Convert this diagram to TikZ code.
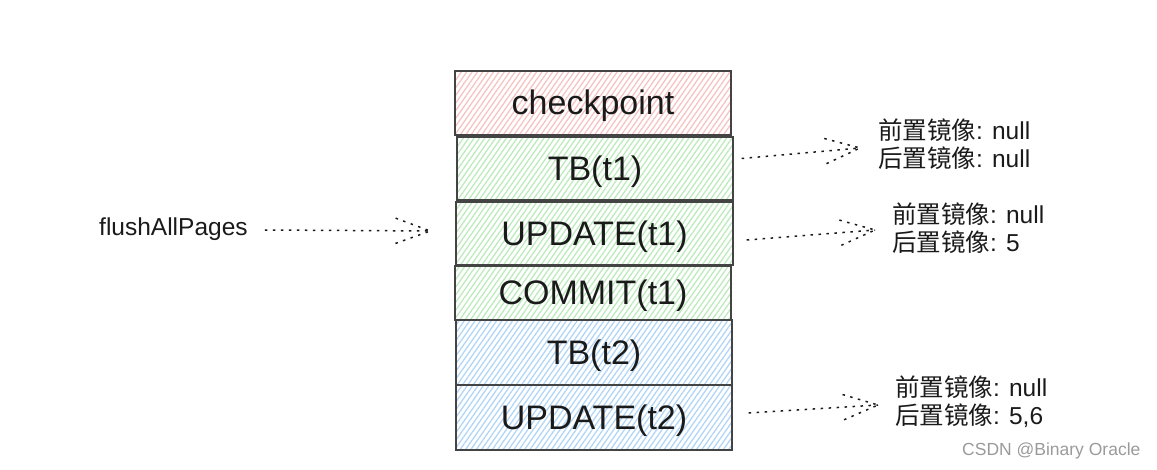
\documentclass[tikz,border=0pt]{standalone}
\usepackage{fontspec}
\setmainfont{Liberation Sans}
\newfontfamily\cjk{Noto Sans CJK SC}
\usetikzlibrary{calc,patterns.meta}
\definecolor{edge}{HTML}{444444}
\definecolor{txt}{HTML}{1A1A1A}
\definecolor{hred}{HTML}{F7C3C3}
\definecolor{hgreen}{HTML}{BDEBBD}
\definecolor{hblue}{HTML}{B3D6F7}
\definecolor{wm}{HTML}{9A9A9A}
\tikzset{
  logbox/.style={draw=edge, line width=1.4pt, preaction={fill=white}, minimum width=276pt, inner sep=0pt,
    text height=30.8pt, text depth=7.2pt, font=\fontsize{34}{40}\selectfont, text=txt},
  redbox/.style={logbox, preaction={pattern={Lines[angle=55,distance=4.4pt,line width=1.3pt]}, pattern color=hred}},
  greenbox/.style={logbox, preaction={pattern={Lines[angle=55,distance=4.4pt,line width=1.3pt]}, pattern color=hgreen}},
  bluebox/.style={logbox, preaction={pattern={Lines[angle=55,distance=4.4pt,line width=1.3pt]}, pattern color=hblue}},
  sidelabel/.style={anchor=west, align=left, inner sep=0pt, text=txt, font=\fontsize{24.5}{28}\selectfont},
  conn/.style={draw=txt, line width=1.5pt, dash pattern=on 2.5pt off 5.5pt},
}
\newcommand{\dotarrow}[2]{%
  \draw[conn] (#1) -- (#2);
  \draw[conn] ($(#2)!37pt!20:(#1)$) -- (#2);
  \draw[conn] ($(#2)!37pt!-20:(#1)$) -- (#2);
}
\begin{document}
\begin{tikzpicture}[x=1pt,y=-1pt]
\useasboundingbox (0,0) rectangle (1157,470);
\node[redbox, minimum height=64pt] (cp) at (593,103) {checkpoint};
\node[greenbox, minimum height=63pt] (tb1) at (595,168.5) {TB(t1)};
\node[greenbox, minimum height=63pt, minimum width=277pt] (up1) at (594.5,233.5) {UPDATE(t1)};
\node[greenbox, minimum height=54pt] (cm1) at (593,293) {COMMIT(t1)};
\node[bluebox, minimum height=65pt] (tb2) at (594,352.5) {TB(t2)};
\node[bluebox, minimum height=65pt] (up2) at (594,417.5) {UPDATE(t2)};

\node[sidelabel] (l1) at (878,144) {{\cjk 前置镜像}: null\\{\cjk 后置镜像}: null};
\node[sidelabel] (l2) at (892,228) {{\cjk 前置镜像}: null\\{\cjk 后置镜像}: 5};
\node[sidelabel] (l3) at (895,401.5) {{\cjk 前置镜像}: null\\{\cjk 后置镜像}: 5,6};
\node[sidelabel] (fl) at (99,229) {flushAllPages};

\coordinate (a1s) at ($(tb1.east)+(8,-10)$);
\coordinate (a1e) at ($(l1.west)+(-18,4)$);
\coordinate (a2s) at ($(up1.east)+(13,6.5)$);
\coordinate (a2e) at ($(l2.west)+(-17,2)$);
\coordinate (a3s) at ($(up2.east)+(16,-4.5)$);
\coordinate (a3e) at ($(l3.west)+(-17,3.5)$);
\coordinate (a4s) at ($(fl.east)+(17,1)$);
\coordinate (a4e) at ($(up1.west)+(-25,-2.5)$);
\dotarrow{a1s}{a1e}
\dotarrow{a2s}{a2e}
\dotarrow{a3s}{a3e}
\dotarrow{a4s}{a4e}

\node[anchor=west, inner sep=0pt, text=wm, font=\fontsize{17.5}{20}\selectfont] (wmk) at (962,451) {CSDN @Binary Oracle};
\end{tikzpicture}
\end{document}
